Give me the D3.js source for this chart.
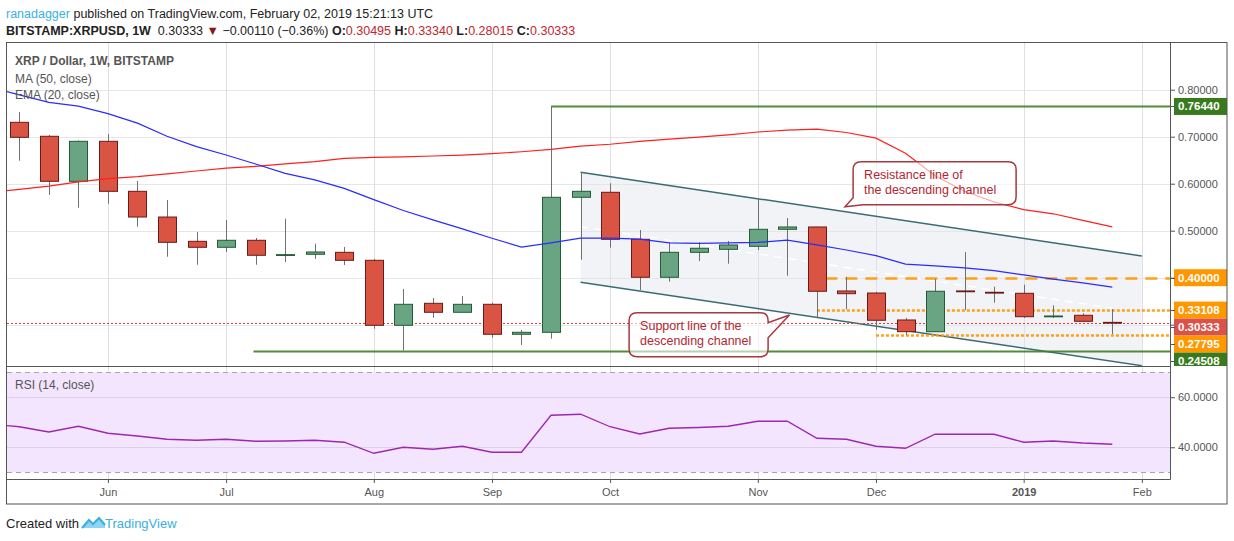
<!DOCTYPE html>
<html>
<head>
<meta charset="utf-8">
<script src="https://cdn.jsdelivr.net/npm/d3@7"></script>
<style>
body { margin: 0; background: #fff; }
svg { display: block; font-family: "Liberation Sans", Arial, sans-serif; }
text { white-space: pre; }
</style>
</head>
<body>
<div id="grafico"></div>
<script>
// Semanas (lunes). La primera solo alimenta las medias/RSI del borde izquierdo
const semanas = ["2018-05-07","2018-05-14","2018-05-21","2018-05-28","2018-06-04","2018-06-11","2018-06-18","2018-06-25",
  "2018-07-02","2018-07-09","2018-07-16","2018-07-23","2018-07-30","2018-08-06","2018-08-13","2018-08-20","2018-08-27",
  "2018-09-03","2018-09-10","2018-09-17","2018-09-24","2018-10-01","2018-10-08","2018-10-15","2018-10-22","2018-10-29",
  "2018-11-05","2018-11-12","2018-11-19","2018-11-26","2018-12-03","2018-12-10","2018-12-17","2018-12-24","2018-12-31",
  "2019-01-07","2019-01-14","2019-01-21","2019-01-28"]
const apertura = [null,0.7306,0.7009,0.6051,0.6902,0.5838,0.5291,0.4774,0.4647,0.4796,0.4477,0.4498,0.4540,0.4370,0.2987,
  0.3455,0.3264,0.3434,0.2796,0.2838,0.5711,0.5817,0.4817,0.4009,0.4540,0.4604,0.4668,0.5030,0.5079,0.3717,0.3674,0.3100,
  0.2851,0.3718,0.3690,0.3668,0.3170,0.3200,0.30495]
const maximo = [null,0.7526,0.7036,0.6920,0.7057,0.6057,0.5653,0.4972,0.5228,0.4845,0.5255,0.4723,0.4653,0.4398,0.3760,
  0.3568,0.3611,0.3468,0.2887,0.7644,0.6243,0.6009,0.5015,0.4753,0.4753,0.4781,0.5674,0.5270,0.5090,0.4021,0.3696,0.3143,
  0.3972,0.4547,0.3809,0.3851,0.3413,0.3243,0.3334]
const minimo = [null,0.6490,0.5760,0.5490,0.5574,0.5085,0.4447,0.4277,0.4547,0.4277,0.4334,0.4398,0.4270,0.2915,0.24508,
  0.3149,0.3264,0.2723,0.2568,0.2702,0.4383,0.4638,0.3738,0.3915,0.4355,0.4298,0.4589,0.4043,0.3164,0.3328,0.2894,0.27795,
  0.2851,0.3313,0.3468,0.3143,0.3143,0.3060,0.28015]
const cierre = [null,0.6987,0.6051,0.6902,0.5838,0.5291,0.4753,0.4647,0.4796,0.4477,0.4490,0.4547,0.4370,0.2987,0.3434,
  0.3264,0.3434,0.2796,0.2838,0.5711,0.5838,0.4817,0.4009,0.4540,0.4626,0.4696,0.5030,0.5079,0.3711,0.3660,0.3094,0.2851,
  0.3711,0.3702,0.3672,0.3170,0.3185,0.3072,0.30333]
const ma50 = [0.581,0.588,0.595,0.604,0.611,0.615,0.621,0.627,0.633,0.637,0.642,0.647,0.654,0.656,0.657,0.659,0.661,0.664,
  0.668,0.673,0.680,0.684,0.690,0.695,0.699,0.704,0.710,0.714,0.716,0.709,0.697,0.665,0.617,0.584,0.561,0.545,0.536,0.522,0.508]
const ema20 = [0.806,0.789,0.773,0.765,0.749,0.729,0.701,0.679,0.661,0.642,0.622,0.608,0.590,0.566,0.543,0.523,0.504,0.484,
  0.465,0.474,0.484,0.484,0.482,0.474,0.473,0.474,0.475,0.480,0.470,0.459,0.447,0.429,0.425,0.421,0.415,0.406,0.397,0.389,0.380]
const rsi14 = [49.2,48.2,46.1,48.4,45.6,44.5,43.2,42.8,43.2,42.4,42.5,42.8,42.0,37.6,40.0,39.2,40.4,38.0,38.0,52.8,53.2,
  48.2,45.3,47.6,47.9,48.4,50.4,50.4,43.6,43.2,40.4,39.6,45.2,45.2,45.2,42.0,42.5,41.7,41.2]

// Ejes
const mesesFechas = ["2018-06-04","2018-07-02","2018-08-06","2018-09-03","2018-10-01","2018-11-05","2018-12-03","2019-01-07","2019-02-04"]
const mesesEtiquetas = ["Jun","Jul","Aug","Sep","Oct","Nov","Dec","2019","Feb"]
const precioTicks = [0.8, 0.7, 0.6, 0.5, 0.4, 0.3]
const rsiTicks = [60, 40]
const rsiBandas = [70, 30]

// Dibujos sobre el grafico
const niveles = [0.7644, 0.4, 0.33108, 0.30333, 0.27795, 0.24508]
const nivelesDesde = ["2018-09-17", "2018-11-21", "2018-11-19", null, "2018-12-03", "2018-07-08T12:00:00Z"]
const nivelesTipo = ["verde", "guiones", "puntos", "actual", "puntos", "verde"]
const canalFechas = ["2018-09-24", "2019-02-04"]
const canalSuperior = [0.6243, 0.4462]
const canalInferior = [0.3902, 0.2128]
const guiaFechas = ["2018-09-24", "2019-01-28"]
const guiaValores = [0.5085, 0.335]
const notasTexto = [["Resistance line of", "the descending channel"], ["Support line of the", "descending channel"]]
const notasFecha = ["2018-11-27T14:00:00Z", "2018-10-05T12:00:00Z"]
const notasPrecio = [0.6468, 0.3255]
const notasPuntaFecha = ["2018-11-25T16:00:00Z", "2018-11-12T12:00:00Z"]
const notasPuntaPrecio = [0.5511, 0.3206]
const notasLado = ["abajo", "derecha"]

const fecha = (s) => new Date(s.length === 10 ? s + "T00:00:00Z" : s)

// Dimensiones
const panel = { left: 7, right: 1170, top: 43, bottom: 366 }
const panelRsi = { top: 366, bottom: 479 }
const fondo = 504
const bordeDer = 1227

const svg = d3.select("#grafico").append("svg")
    .attr("width", 1234)
    .attr("height", 541)

// Escaladores
const x = d3.scaleUtc()
    .domain([fecha("2018-05-14"), fecha("2019-01-28")])
    .range([19.3, 1112.3])
const y = d3.scaleLinear()
    .domain([0.2121, 0.8994])
    .range([panel.bottom, panel.top])
const yRsi = d3.scaleLinear()
    .domain([27.3, 72.5])
    .range([panelRsi.bottom, panelRsi.top])

const defs = svg.append("defs")
defs.append("clipPath").attr("id", "clipPrecio").append("rect")
    .attr("x", panel.left).attr("y", panel.top)
    .attr("width", panel.right - panel.left).attr("height", panel.bottom - panel.top)
defs.append("clipPath").attr("id", "clipRsi").append("rect")
    .attr("x", panel.left).attr("y", panelRsi.top)
    .attr("width", panel.right - panel.left).attr("height", panelRsi.bottom - panelRsi.top)
defs.append("clipPath").attr("id", "clipEtiquetas").append("rect")
    .attr("x", panel.right).attr("y", panel.top)
    .attr("width", bordeDer - panel.right).attr("height", panel.bottom - panel.top)

// Cabecera
const cab1 = svg.append("text").attr("x", 6).attr("y", 17.5).attr("font-size", 12.5).attr("fill", "#222")
cab1.append("tspan").attr("fill", "#3ab0e2").text("ranadagger")
cab1.append("tspan").text(" published on TradingView.com, February 02, 2019 15:21:13 UTC")

const cab2 = svg.append("text").attr("x", 6).attr("y", 34.5).attr("font-size", 12.5).attr("fill", "#222")
const rojoCab = "#c1272d"
;[["BITSTAMP:XRPUSD, 1W", "bold", null], ["  0.30333 ", "normal", null], ["\u25BC", "normal", "#8e1515"],
  [" \u22120.00110 (\u22120.36%) ", "normal", null], ["O:", "bold", null], ["0.30495", "normal", rojoCab],
  [" H:", "bold", null], ["0.33340", "normal", rojoCab], [" L:", "bold", null], ["0.28015", "normal", rojoCab],
  [" C:", "bold", null], ["0.30333", "normal", rojoCab]].forEach(([t, w, c]) => {
    const s = cab2.append("tspan").attr("font-weight", w).text(t)
    if (c) s.attr("fill", c)
})

// Rejilla
const rejilla = svg.append("g").attr("stroke", "#e6e6e6").attr("stroke-width", 1)
rejilla.selectAll("line.h").data(precioTicks).join("line")
    .attr("x1", panel.left).attr("x2", panel.right)
    .attr("y1", d => Math.round(y(d)) + 0.5).attr("y2", d => Math.round(y(d)) + 0.5)

// Panel RSI (fondo)
const gRsi = svg.append("g").attr("clip-path", "url(#clipRsi)")
gRsi.append("rect")
    .attr("x", panel.left).attr("width", panel.right - panel.left)
    .attr("y", yRsi(rsiBandas[0])).attr("height", yRsi(rsiBandas[1]) - yRsi(rsiBandas[0]))
    .attr("fill", "#f3e5fd")
gRsi.selectAll("line.g").data(rsiTicks).join("line")
    .attr("x1", panel.left).attr("x2", panel.right)
    .attr("y1", d => Math.round(yRsi(d)) + 0.5).attr("y2", d => Math.round(yRsi(d)) + 0.5)
    .attr("stroke", "#ddd0e8")
gRsi.selectAll("line.b").data(rsiBandas).join("line")
    .attr("x1", panel.left).attr("x2", panel.right)
    .attr("y1", d => Math.round(yRsi(d)) + 0.5).attr("y2", d => Math.round(yRsi(d)) + 0.5)
    .attr("stroke", "#aaa3b3").attr("stroke-dasharray", "5,4")

rejilla.selectAll("line.v").data(mesesFechas).join("line")
    .attr("x1", d => Math.round(x(fecha(d))) + 0.5).attr("x2", d => Math.round(x(fecha(d))) + 0.5)
    .attr("y1", panel.top).attr("y2", panelRsi.bottom)
    .attr("stroke", "#e2dce6")

// Area de precio
const g = svg.append("g").attr("clip-path", "url(#clipPrecio)")

// Canal descendente
const cx0 = x(fecha(canalFechas[0])), cx1 = x(fecha(canalFechas[1]))
g.append("path")
    .attr("d", `M${cx0},${y(canalSuperior[0])}L${cx1},${y(canalSuperior[1])}L${cx1},${y(canalInferior[1])}L${cx0},${y(canalInferior[0])}Z`)
    .attr("fill", "#dfe4ea").attr("fill-opacity", 0.45)
;[canalSuperior, canalInferior].forEach(v => {
    g.append("line")
        .attr("x1", cx0).attr("y1", y(v[0])).attr("x2", cx1).attr("y2", y(v[1]))
        .attr("stroke", "#3a6a74").attr("stroke-width", 1.5)
})
g.append("line")
    .attr("x1", x(fecha(guiaFechas[0]))).attr("y1", y(guiaValores[0]))
    .attr("x2", x(fecha(guiaFechas[1]))).attr("y2", y(guiaValores[1]))
    .attr("stroke", "#fff").attr("stroke-width", 1.5).attr("stroke-dasharray", "8,6")

// Niveles horizontales
const estilos = {
    verde: { color: "#3f7f23", ancho: 2, guion: null },
    guiones: { color: "#ff9800", ancho: 2.5, guion: "12,8" },
    puntos: { color: "#ff9800", ancho: 2.5, guion: "3,2" },
    actual: { color: "#e53935", ancho: 1, guion: "2,2" },
}
niveles.forEach((v, i) => {
    const e = estilos[nivelesTipo[i]]
    const yy = Math.round(y(v)) + 0.5
    g.append("line")
        .attr("x1", nivelesDesde[i] ? x(fecha(nivelesDesde[i])) : panel.left).attr("x2", panel.right)
        .attr("y1", yy).attr("y2", yy)
        .attr("stroke", e.color).attr("stroke-width", e.ancho)
        .attr("stroke-dasharray", e.guion)
        .attr("stroke-opacity", nivelesTipo[i] === "actual" ? 1 : 0.9)
})

// Velas
const velas = semanas.map((s, i) => ({ fecha: fecha(s), o: apertura[i], h: maximo[i], l: minimo[i], c: cierre[i] }))
    .filter(d => d.o != null)
const anchoVela = 18
const xv = d => Math.round(x(d.fecha)) + 0.5
g.append("g").selectAll("line").data(velas).join("line")
    .attr("x1", xv).attr("x2", xv)
    .attr("y1", d => y(d.h)).attr("y2", d => y(d.l))
    .attr("stroke", "#707070")
g.append("g").selectAll("rect").data(velas).join("rect")
    .attr("x", d => xv(d) - anchoVela / 2)
    .attr("y", d => y(Math.max(d.o, d.c)))
    .attr("width", anchoVela)
    .attr("height", d => Math.max(0.8, Math.abs(y(d.o) - y(d.c))))
    .attr("fill", d => d.c >= d.o ? "#6aa583" : "#d95443")
    .attr("stroke", d => d.c >= d.o ? "#225b35" : "#6b1a1a")
    .attr("stroke-width", 1)

// Medias
const serie = (arr) => semanas.map((s, i) => ({ fecha: fecha(s), v: arr[i] }))
const linea = d3.line().x(d => x(d.fecha)).y(d => y(d.v))
g.append("path").datum(serie(ma50)).attr("d", linea)
    .attr("fill", "none").attr("stroke", "#ff1f1f").attr("stroke-width", 1.2)
g.append("path").datum(serie(ema20)).attr("d", linea)
    .attr("fill", "none").attr("stroke", "#2b2bff").attr("stroke-width", 1.2)

// Notas (globos)
notasTexto.forEach((lineas, i) => {
    const L = x(fecha(notasFecha[i])), T = y(notasPrecio[i])
    const W = i === 0 ? 163 : 139, H = i === 0 ? 43 : 44, r = 8
    const R = L + W, B = T + H
    const px = x(fecha(notasPuntaFecha[i])), py = y(notasPuntaPrecio[i])
    const d = notasLado[i] === "abajo"
        ? `M${L + r},${T}H${R - r}Q${R},${T} ${R},${T + r}V${B - r}Q${R},${B} ${R - r},${B}H${L + 10}L${px},${py}L${L},${B - 7}V${T + r}Q${L},${T} ${L + r},${T}Z`
        : `M${L + r},${T}H${R - r}Q${R},${T} ${R},${T + r}V${T + 10}L${px},${py}L${R},${T + 25}V${B - r}Q${R},${B} ${R - r},${B}H${L + r}Q${L},${B} ${L},${B - r}V${T + r}Q${L},${T} ${L + r},${T}Z`
    svg.append("path").attr("d", d)
        .attr("fill", "#fff").attr("fill-opacity", 0.6)
        .attr("stroke", "#a9373f").attr("stroke-width", 1.5)
    svg.append("text")
        .attr("x", L + 11).attr("y", T + 17.5)
        .attr("font-size", 12.5).attr("fill", "#b32630")
        .selectAll("tspan").data(lineas).join("tspan")
        .attr("x", L + 11).attr("dy", (t, k) => k ? 14.5 : 0)
        .text(t => t)
})

// Leyenda
const leyenda = svg.append("g").attr("fill", "#555").attr("font-size", 12)
leyenda.append("text").attr("x", 15).attr("y", 64.5).attr("font-weight", "bold").text("XRP / Dollar, 1W, BITSTAMP")
leyenda.append("text").attr("x", 15).attr("y", 82.5).text("MA (50, close)")
leyenda.append("text").attr("x", 15).attr("y", 98.5).text("EMA (20, close)")

// RSI
gRsi.append("path").datum(serie(rsi14))
    .attr("d", d3.line().x(d => x(d.fecha)).y(d => yRsi(d.v)))
    .attr("fill", "none").attr("stroke", "#9c27b0").attr("stroke-width", 1.3)
svg.append("text").attr("x", 15).attr("y", 389).attr("font-size", 12).attr("fill", "#555").text("RSI (14, close)")

// Ejes
const ejePrecio = svg.append("g").attr("transform", `translate(${panel.right},0)`)
    .call(d3.axisRight(y).tickValues(precioTicks).tickFormat(d3.format(".5f")).tickSize(5).tickPadding(3))
const ejeRsi = svg.append("g").attr("transform", `translate(${panel.right},0)`)
    .call(d3.axisRight(yRsi).tickValues(rsiTicks).tickFormat(d3.format(".4f")).tickSize(5).tickPadding(3))
const ejeX = svg.append("g").attr("transform", `translate(0,${panelRsi.bottom})`)
    .call(d3.axisBottom(x).tickValues(mesesFechas.map(fecha)).tickFormat((d, i) => mesesEtiquetas[i]).tickSize(4).tickPadding(5))
;[ejePrecio, ejeRsi, ejeX].forEach(e => {
    e.select(".domain").remove()
    e.selectAll("line").attr("stroke", "#555")
    e.selectAll("text").attr("fill", "#555").attr("font-size", 11).attr("font-family", "Liberation Sans, Arial, sans-serif")
})
ejeX.selectAll("text").filter((d, i) => mesesEtiquetas[i] === "2019").attr("font-weight", "bold")

// Etiquetas de niveles en el eje
const colorEtiqueta = { verde: "#3a7a1e", guiones: "#ff9800", puntos: "#ff9800", actual: "#d9534a" }
const etiquetas = niveles.map((v, i) => ({ v, tipo: nivelesTipo[i] })).sort((a, b) => b.v - a.v)
let ultimo = -Infinity
etiquetas.forEach(d => { d.yc = Math.max(y(d.v), ultimo + 17); ultimo = d.yc })
const gEt = svg.append("g").attr("clip-path", "url(#clipEtiquetas)")
const et = gEt.selectAll("g").data(etiquetas).join("g")
et.append("rect")
    .attr("x", panel.right + 4).attr("width", bordeDer - panel.right - 4)
    .attr("y", d => d.yc - 8.5).attr("height", 17)
    .attr("fill", d => colorEtiqueta[d.tipo])
et.append("line")
    .attr("x1", panel.right).attr("x2", panel.right + 5)
    .attr("y1", d => Math.round(d.yc) + 0.5).attr("y2", d => Math.round(d.yc) + 0.5)
    .attr("stroke", "#555")
et.append("text")
    .attr("x", panel.right + 8).attr("y", d => d.yc + 4)
    .attr("fill", "#fff").attr("font-size", 11.5).attr("font-weight", "bold")
    .text(d => d3.format(".5f")(d.v))

// Bordes
const bordes = svg.append("g").attr("stroke", "#555").attr("fill", "none").attr("stroke-width", 1)
bordes.append("rect").attr("x", 6.5).attr("y", 42.5).attr("width", bordeDer - 6.5).attr("height", fondo - 42.5)
bordes.append("line").attr("x1", panel.right + 0.5).attr("x2", panel.right + 0.5).attr("y1", 42.5).attr("y2", panelRsi.bottom + 0.5)
bordes.append("line").attr("x1", 6.5).attr("x2", panel.right + 0.5).attr("y1", panel.bottom + 0.5).attr("y2", panel.bottom + 0.5)
bordes.append("line").attr("x1", 6.5).attr("x2", panel.right + 0.5).attr("y1", panelRsi.bottom + 0.5).attr("y2", panelRsi.bottom + 0.5)

// Pie
svg.append("text").attr("x", 6).attr("y", 528).attr("font-size", 13).attr("fill", "#222").text("Created with")
const logo = svg.append("g").attr("transform", "translate(82,515)")
logo.append("path").attr("d", "M0,13 L7,5 L11,9 L17,3 L23,10 L23,13 Z").attr("fill", "#8fd4f1")
logo.append("path").attr("d", "M0,13 L7,5 L11,9 L17,3 L23,10").attr("fill", "none").attr("stroke", "#3ab0e2").attr("stroke-width", 2.2)
svg.append("text").attr("x", 105).attr("y", 528).attr("font-size", 13).attr("fill", "#3ab0e2").text("TradingView")
</script>
</body>
</html>
